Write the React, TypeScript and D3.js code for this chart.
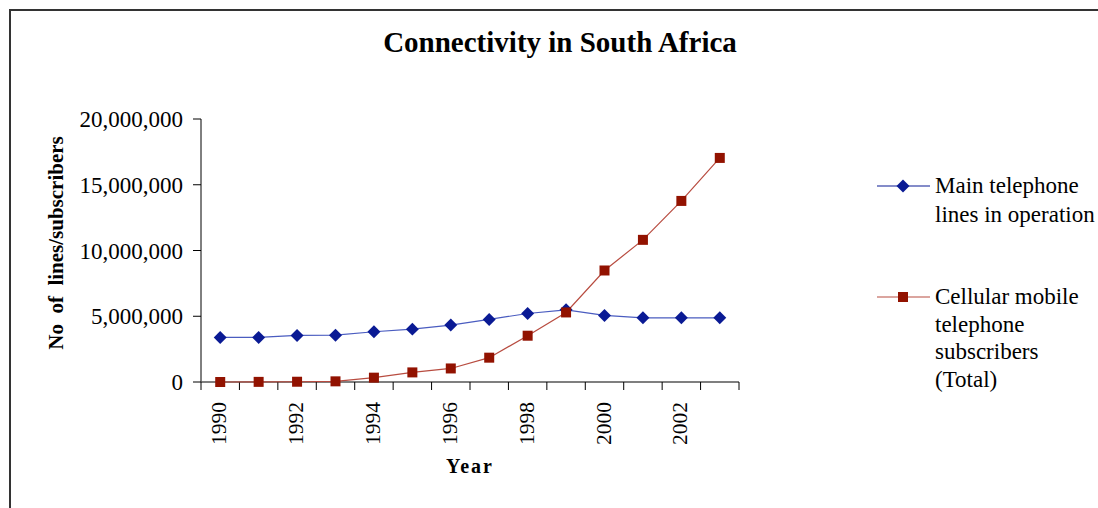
import React from "react";
import * as d3 from "d3";

const years = [1990, 1991, 1992, 1993, 1994, 1995, 1996, 1997, 1998, 1999, 2000, 2001, 2002, 2003];
const mainLines = [3.39, 3.39, 3.54, 3.56, 3.82, 4.02, 4.33, 4.76, 5.21, 5.49, 5.06, 4.88, 4.88, 4.88].map(v => v * 1e6);
const cellular = [0.0, 0.01, 0.02, 0.05, 0.33, 0.73, 1.03, 1.85, 3.52, 5.29, 8.48, 10.81, 13.77, 17.04].map(v => v * 1e6);
const yTicks = [0, 5000000, 10000000, 15000000, 20000000];
const xLabelYears = [1990, 1992, 1994, 1996, 1998, 2000, 2002];
const legendMain = ["Main telephone", "lines in operation"];
const legendCell = ["Cellular mobile", "telephone", "subscribers", "(Total)"];

const W = 1098, H = 508;
const plot = { left: 201, right: 739, top: 119, bottom: 382 };
const FONT = "'Liberation Serif', 'Times New Roman', serif";
const BLUE_M = "#0a1a94", BLUE_L = "#4a5cc0";
const RED_M = "#921200", RED_L = "#b84c40";

export default function App() {
  const x = d3.scaleBand<number>().domain(years).range([plot.left, plot.right]);
  const y = d3.scaleLinear().domain([0, 20000000]).range([plot.bottom, plot.top]);
  const cx = (yr: number) => (x(yr) as number) + x.bandwidth() / 2;
  const line = d3.line<number>().x((_, i) => cx(years[i])).y(d => y(d));
  const fmt = d3.format(",");
  const diamond = d3.symbol().type(d3.symbolSquare).size(84)() as string;
  const square = d3.symbol().type(d3.symbolSquare).size(100)() as string;

  return (
    <svg width={W} height={H} style={{ position: "absolute", left: 0, top: 0, background: "#fff" }} fontFamily={FONT}>
      <rect x={0} y={0} width={W} height={H} fill="#fff" />
      <path d={`M10,${H} L10,10 L${W + 5},10`} fill="none" stroke="#333" strokeWidth={2} />
      <text x={560} y={52} textAnchor="middle" fontSize={29} fontWeight="bold">Connectivity in South Africa</text>

      {/* y axis */}
      <line x1={plot.left} x2={plot.left} y1={plot.top} y2={plot.bottom} stroke="#000" strokeWidth={1} />
      {yTicks.map(t => (
        <g key={t}>
          <line x1={plot.left - 8} x2={plot.left} y1={y(t)} y2={y(t)} stroke="#000" />
          <text x={183} y={y(t) + 8} textAnchor="end" fontSize={23}>{fmt(t)}</text>
        </g>
      ))}
      <text transform={`translate(63,${243}) rotate(-90)`} textAnchor="middle" fontSize={21} fontWeight="bold" style={{ whiteSpace: "pre" }}>{"No  of  lines/subscribers"}</text>

      {/* x axis */}
      <line x1={plot.left} x2={plot.right} y1={plot.bottom} y2={plot.bottom} stroke="#555" strokeWidth={1.5} />
      {years.concat([years[years.length - 1] + 1]).map((yr, i) => {
        const px = plot.left + i * x.step();
        return <line key={yr} x1={px} x2={px} y1={plot.bottom} y2={plot.bottom + 8} stroke="#000" />;
      })}
      {xLabelYears.map(yr => (
        <text key={yr} transform={`translate(${cx(yr) + 6},${402}) rotate(-90)`} textAnchor="end" fontSize={21.5}>{yr}</text>
      ))}
      <text x={470} y={473} textAnchor="middle" fontSize={20} fontWeight="bold" letterSpacing={2}>Year</text>

      {/* series */}
      <path d={line(mainLines) as string} fill="none" stroke={BLUE_L} strokeWidth={1.2} />
      <path d={line(cellular) as string} fill="none" stroke={RED_L} strokeWidth={1.2} />
      {mainLines.map((v, i) => (
        <path key={"m" + i} d={diamond} transform={`translate(${cx(years[i])},${y(v)}) rotate(45)`} fill={BLUE_M} />
      ))}
      {cellular.map((v, i) => (
        <path key={"c" + i} d={square} transform={`translate(${cx(years[i])},${y(v)})`} fill={RED_M} />
      ))}

      {/* legend */}
      <line x1={877} x2={930} y1={186} y2={186} stroke={BLUE_M} strokeWidth={1.2} />
      <path d={diamond} transform="translate(903,186) rotate(45)" fill={BLUE_M} />
      {legendMain.map((t, i) => (
        <text key={t} x={935} y={193 + i * 28.5} fontSize={23}>{t}</text>
      ))}
      <line x1={877} x2={930} y1={297} y2={297} stroke={RED_L} strokeWidth={1.2} />
      <path d={square} transform="translate(903,297)" fill={RED_M} />
      {legendCell.map((t, i) => (
        <text key={t} x={935} y={304 + i * 27.5} fontSize={23}>{t}</text>
      ))}
    </svg>
  );
}
